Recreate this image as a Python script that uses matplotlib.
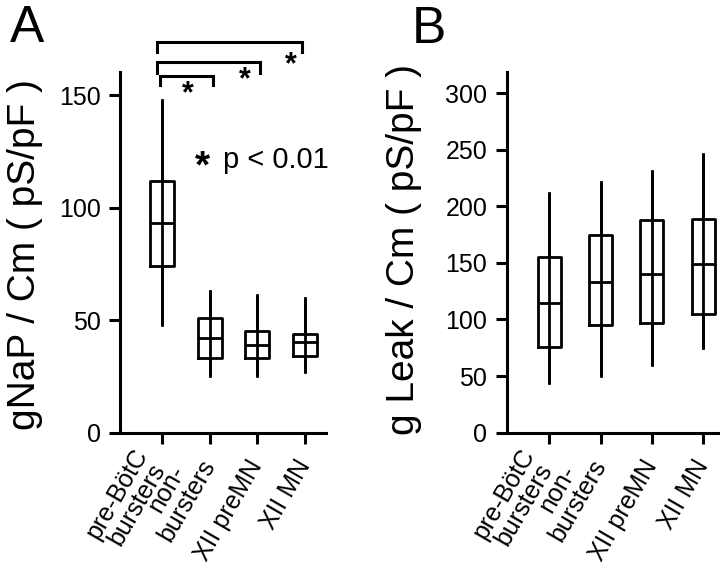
import matplotlib
matplotlib.use('Agg')
import matplotlib.pyplot as plt
from matplotlib.transforms import ScaledTranslation

plt.rcParams['font.family'] = ['Liberation Sans', 'DejaVu Sans']

# categories
groups = ['pre-BötC\nbursters', 'non-\nbursters', 'XII preMN', 'XII MN']

# A: gNaP / Cm box stats (pS/pF)
gnap_lo = [48, 25, 25, 27]
gnap_q1 = [74, 33, 33, 34]
gnap_med = [93, 42, 39, 40.5]
gnap_q3 = [112, 51, 45, 44]
gnap_hi = [148, 63, 61, 60]

# B: g Leak / Cm box stats (pS/pF)
gleak_lo = [44, 50, 60, 75]
gleak_q1 = [76, 95, 97, 105]
gleak_med = [115, 133, 140, 149]
gleak_q3 = [155, 175, 188, 189]
gleak_hi = [212, 221, 231, 246]

# significance brackets in panel A (from group 0 to group k)
br_left = [-0.1, -0.1, -0.05]
br_right = [2.93, 2.06, 1.08]
br_top = [173.8, 164.9, 158.5]
br_drop = [169.3, 160.0, 154.5]
star_x = [2.70, 1.74, 0.55]
star_y = [163.4, 156.8, 150.6]

LW = 2.2


def make_stats(lo, q1, med, q3, hi):
    out = []
    for a, b, c, d, e in zip(lo, q1, med, q3, hi):
        out.append({'whislo': a, 'q1': b, 'med': c, 'q3': d, 'whishi': e, 'fliers': []})
    return out


def style_axis(ax, positions):
    for s in ['top', 'right']:
        ax.spines[s].set_visible(False)
    for s in ['left', 'bottom']:
        ax.spines[s].set_linewidth(LW)
    ax.tick_params(axis='both', length=8, width=LW, direction='out')
    ax.tick_params(axis='y', labelsize=18, pad=6)
    # last line of each label sits next to its tick, extra lines go up-left
    ax.set_xticks(positions, groups, rotation=60, ha='right', va='bottom',
                  rotation_mode='anchor', multialignment='center',
                  linespacing=0.95, fontsize=18)
    ax.tick_params(axis='x', pad=2)
    off = ScaledTranslation(10 / 100, -21 / 100, fig.dpi_scale_trans)
    for lab in ax.get_xticklabels():
        lab.set_transform(lab.get_transform() + off)


fig = plt.figure(figsize=(7.2, 5.73), dpi=100)
axA = fig.add_axes([120 / 720, 1 - 432.7 / 573, 206 / 720, 360.7 / 573])
axB = fig.add_axes([506.7 / 720, 1 - 432.7 / 573, 213.3 / 720, 360.7 / 573])

pos = list(range(len(groups)))
boxkw = dict(showcaps=False, showfliers=False,
             boxprops=dict(linewidth=2.0, color='black'),
             whiskerprops=dict(linewidth=2.0, color='black'),
             medianprops=dict(linewidth=2.0, color='black'))

axA.bxp(make_stats(gnap_lo, gnap_q1, gnap_med, gnap_q3, gnap_hi),
        positions=pos, widths=0.5, **boxkw)
# whisker runs through the box in the reference
axA.vlines(pos, gnap_lo, gnap_hi, color='black', linewidth=2.0)
axA.set_xlim(-0.88, 3.44)
axA.set_ylim(0, 160.3)
axA.set_yticks([0, 50, 100, 150])
style_axis(axA, pos)

for l, r, t, d in zip(br_left, br_right, br_top, br_drop):
    axA.plot([l, l, r, r], [d, t, t, d], color='black', linewidth=LW,
             clip_on=False, solid_joinstyle='miter')
for x, y in zip(star_x, star_y):
    axA.text(x, y, '*', ha='center', va='center', fontsize=22,
             fontweight='bold', clip_on=False)
axA.text(0.85, 118, '*', ha='center', va='center', fontsize=28, fontweight='bold')
axA.text(1.28, 121, 'p < 0.01', ha='left', va='center', fontsize=21)

axB.bxp(make_stats(gleak_lo, gleak_q1, gleak_med, gleak_q3, gleak_hi),
        positions=pos, widths=0.45, **boxkw)
axB.vlines(pos, gleak_lo, gleak_hi, color='black', linewidth=2.0)
axB.set_xlim(-0.83, 3.33)
axB.set_ylim(0, 318.6)
axB.set_yticks([0, 50, 100, 150, 200, 250, 300])
style_axis(axB, pos)

fig.text(25 / 720, 1 - 255 / 573, 'gNaP / Cm ( pS/pF )', rotation=90,
         ha='center', va='center', fontsize=28)
fig.text(403.5 / 720, 1 - 249 / 573, 'g Leak / Cm ( pS/pF )', rotation=90,
         ha='center', va='center', fontsize=28)

fig.text(10 / 720, 1 - 42 / 573, 'A', fontsize=37, va='baseline', ha='left')
fig.text(412 / 720, 1 - 43 / 573, 'B', fontsize=37, va='baseline', ha='left')

fig.savefig('out.png', dpi=100)
